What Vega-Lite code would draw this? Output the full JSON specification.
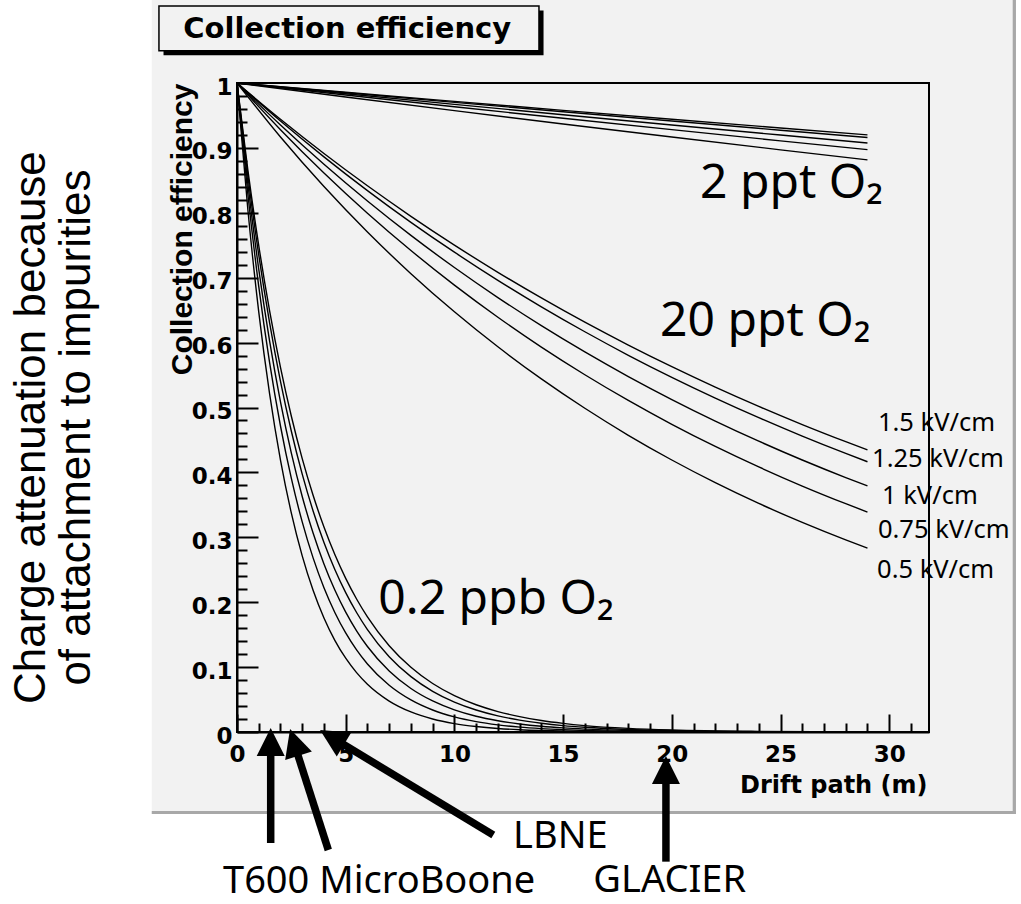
{
  "$schema": "https://vega.github.io/schema/vega-lite/v6.json",
  "width": 692,
  "height": 649,
  "autosize": "none",
  "padding": {"left": 237, "top": 83, "right": 92, "bottom": 172},
  "background": "#f2f2f2",
  "config": {
    "view": {"stroke": "#000000", "strokeWidth": 2, "fill": null},
    "axis": {
      "grid": false,
      "domainColor": "#000000",
      "domainWidth": 2,
      "tickColor": "#000000",
      "tickWidth": 2,
      "labelColor": "#000000",
      "titleColor": "#000000",
      "labelFont": "DejaVu Sans",
      "labelFontWeight": "bold",
      "labelFontSize": 23,
      "labelOverlap": false,
      "labelBound": false,
      "labelFlush": false
    }
  },
  "encoding": {
    "x": {
      "field": "drift",
      "type": "quantitative",
      "scale": {"domain": [0, 31.83], "nice": false, "zero": false},
      "axis": {
        "values": [0,1,2,3,4,5,6,7,8,9,10,11,12,13,14,15,16,17,18,19,20,21,22,23,24,25,26,27,28,29,30,31],
        "labelExpr": "datum.value % 5 === 0 ? format(datum.value, 'd') : ''",
        "tickSize": {"condition": {"test": "datum.value % 5 === 0", "value": -18}, "value": -9},
        "labelBaseline": "top",
        "labelPadding": 29,
        "title": "Drift path (m)",
        "titleFont": "DejaVu Sans",
        "titleFontWeight": "bold",
        "titleFontSize": 24,
        "titleAlign": "right",
        "titleBaseline": "alphabetic",
        "titleX": 690,
        "titleY": 60
      }
    },
    "y": {
      "field": "eff",
      "type": "quantitative",
      "scale": {"domain": [0, 1], "nice": false, "zero": false},
      "axis": {
        "values": [0,0.02,0.04,0.06,0.08,0.1,0.12,0.14,0.16,0.18,0.2,0.22,0.24,0.26,0.28,0.3,0.32,0.34,0.36,0.38,0.4,0.42,0.44,0.46,0.48,0.5,0.52,0.54,0.56,0.58,0.6,0.62,0.64,0.66,0.68,0.7,0.72,0.74,0.76,0.78,0.8,0.82,0.84,0.86,0.88,0.9,0.92,0.94,0.96,0.98,1],
        "labelExpr": "round(datum.value * 100) % 10 === 0 ? format(datum.value, '~g') : ''",
        "tickSize": {"condition": {"test": "round(datum.value * 100) % 10 === 0", "value": -21}, "value": -10},
        "labelAlign": "right",
        "labelBaseline": "middle",
        "labelOffset": 4,
        "labelPadding": 26,
        "title": "Collection efficiency",
        "titleFont": "Liberation Sans",
        "titleFontWeight": "bold",
        "titleFontSize": 30,
        "titleAngle": 270,
        "titleAlign": "right",
        "titleBaseline": "alphabetic",
        "titleX": -46,
        "titleY": 0
      }
    }
  },
  "layer": [
    {
      "data": {"values": [
        {"drift": -12, "drift2": -3.92, "eff": -0.3, "eff2": 1.2},
        {"drift": -12, "drift2": 37, "eff": -0.3, "eff2": -0.1263},
        {"drift": 35.83, "drift2": 37, "eff": -0.3, "eff2": 1.2}
      ]},
      "mark": {"type": "rect", "color": "#ffffff", "opacity": 1},
      "encoding": {"x2": {"field": "drift2"}, "y2": {"field": "eff2"}}
    },
    {
      "data": {"values": [
        {"drift": -3.92, "drift2": 35.83, "eff": -0.1263, "eff2": -0.1217},
        {"drift": 35.68, "drift2": 35.83, "eff": -0.1263, "eff2": 1.2}
      ]},
      "mark": {"type": "rect", "color": "#a8a8a8", "opacity": 1},
      "encoding": {"x2": {"field": "drift2"}, "y2": {"field": "eff2"}}
    },
    {
      "data": {"values": [{"drift": -3.38, "drift2": 14.10, "eff": 1.0429, "eff2": 1.1117}]},
      "mark": {"type": "rect", "color": "#000000", "opacity": 1},
      "encoding": {"x2": {"field": "drift2"}, "y2": {"field": "eff2"}}
    },
    {
      "data": {"values": [{"drift": -3.59, "drift2": 13.89, "eff": 1.0498, "eff2": 1.1186}]},
      "mark": {"type": "rect", "fill": "#f2f2f2", "stroke": "#000000", "strokeWidth": 1.5, "opacity": 1},
      "encoding": {"x2": {"field": "drift2"}, "y2": {"field": "eff2"}}
    },
    {
      "data": {"values": [{"label": "Collection efficiency", "drift": 5.07, "eff": 1.0689}]},
      "mark": {"type": "text", "font": "DejaVu Sans", "fontWeight": "bold", "fontSize": 29, "align": "center", "baseline": "alphabetic", "color": "#000000"},
      "encoding": {"text": {"field": "label"}}
    },
    {
      "data": {"values": [
        {"curve": "2ppt 1.5", "drift": 0, "eff": 1},
        {"curve": "2ppt 1.5", "drift": 5, "eff": 0.9857},
        {"curve": "2ppt 1.5", "drift": 10, "eff": 0.9717},
        {"curve": "2ppt 1.5", "drift": 15, "eff": 0.9578},
        {"curve": "2ppt 1.5", "drift": 20, "eff": 0.9441},
        {"curve": "2ppt 1.5", "drift": 25, "eff": 0.9307},
        {"curve": "2ppt 1.5", "drift": 29, "eff": 0.9200},
        {"curve": "2ppt 1.25", "drift": 0, "eff": 1},
        {"curve": "2ppt 1.25", "drift": 5, "eff": 0.9850},
        {"curve": "2ppt 1.25", "drift": 10, "eff": 0.9702},
        {"curve": "2ppt 1.25", "drift": 15, "eff": 0.9557},
        {"curve": "2ppt 1.25", "drift": 20, "eff": 0.9414},
        {"curve": "2ppt 1.25", "drift": 25, "eff": 0.9273},
        {"curve": "2ppt 1.25", "drift": 29, "eff": 0.9161},
        {"curve": "2ppt 1", "drift": 0, "eff": 1},
        {"curve": "2ppt 1", "drift": 5, "eff": 0.9834},
        {"curve": "2ppt 1", "drift": 10, "eff": 0.9671},
        {"curve": "2ppt 1", "drift": 15, "eff": 0.9511},
        {"curve": "2ppt 1", "drift": 20, "eff": 0.9353},
        {"curve": "2ppt 1", "drift": 25, "eff": 0.9198},
        {"curve": "2ppt 1", "drift": 29, "eff": 0.9076},
        {"curve": "2ppt 0.75", "drift": 0, "eff": 1},
        {"curve": "2ppt 0.75", "drift": 5, "eff": 0.9815},
        {"curve": "2ppt 0.75", "drift": 10, "eff": 0.9634},
        {"curve": "2ppt 0.75", "drift": 15, "eff": 0.9456},
        {"curve": "2ppt 0.75", "drift": 20, "eff": 0.9281},
        {"curve": "2ppt 0.75", "drift": 25, "eff": 0.9109},
        {"curve": "2ppt 0.75", "drift": 29, "eff": 0.8974},
        {"curve": "2ppt 0.5", "drift": 0, "eff": 1},
        {"curve": "2ppt 0.5", "drift": 5, "eff": 0.9785},
        {"curve": "2ppt 0.5", "drift": 10, "eff": 0.9575},
        {"curve": "2ppt 0.5", "drift": 15, "eff": 0.9369},
        {"curve": "2ppt 0.5", "drift": 20, "eff": 0.9167},
        {"curve": "2ppt 0.5", "drift": 25, "eff": 0.8970},
        {"curve": "2ppt 0.5", "drift": 29, "eff": 0.8815},

        {"curve": "20ppt 1.5", "drift": 0, "eff": 1},
        {"curve": "20ppt 1.5", "drift": 2, "eff": 0.9441},
        {"curve": "20ppt 1.5", "drift": 4, "eff": 0.8914},
        {"curve": "20ppt 1.5", "drift": 6, "eff": 0.8416},
        {"curve": "20ppt 1.5", "drift": 8, "eff": 0.7946},
        {"curve": "20ppt 1.5", "drift": 10, "eff": 0.7502},
        {"curve": "20ppt 1.5", "drift": 12, "eff": 0.7083},
        {"curve": "20ppt 1.5", "drift": 14, "eff": 0.6688},
        {"curve": "20ppt 1.5", "drift": 16, "eff": 0.6314},
        {"curve": "20ppt 1.5", "drift": 18, "eff": 0.5962},
        {"curve": "20ppt 1.5", "drift": 20, "eff": 0.5629},
        {"curve": "20ppt 1.5", "drift": 22, "eff": 0.5314},
        {"curve": "20ppt 1.5", "drift": 24, "eff": 0.5017},
        {"curve": "20ppt 1.5", "drift": 26, "eff": 0.4737},
        {"curve": "20ppt 1.5", "drift": 28, "eff": 0.4473},
        {"curve": "20ppt 1.5", "drift": 29, "eff": 0.4346},
        {"curve": "20ppt 1.25", "drift": 0, "eff": 1},
        {"curve": "20ppt 1.25", "drift": 2, "eff": 0.9414},
        {"curve": "20ppt 1.25", "drift": 4, "eff": 0.8862},
        {"curve": "20ppt 1.25", "drift": 6, "eff": 0.8342},
        {"curve": "20ppt 1.25", "drift": 8, "eff": 0.7853},
        {"curve": "20ppt 1.25", "drift": 10, "eff": 0.7393},
        {"curve": "20ppt 1.25", "drift": 12, "eff": 0.6959},
        {"curve": "20ppt 1.25", "drift": 14, "eff": 0.6551},
        {"curve": "20ppt 1.25", "drift": 16, "eff": 0.6167},
        {"curve": "20ppt 1.25", "drift": 18, "eff": 0.5805},
        {"curve": "20ppt 1.25", "drift": 20, "eff": 0.5465},
        {"curve": "20ppt 1.25", "drift": 22, "eff": 0.5145},
        {"curve": "20ppt 1.25", "drift": 24, "eff": 0.4843},
        {"curve": "20ppt 1.25", "drift": 26, "eff": 0.4559},
        {"curve": "20ppt 1.25", "drift": 28, "eff": 0.4292},
        {"curve": "20ppt 1.25", "drift": 29, "eff": 0.4164},
        {"curve": "20ppt 1", "drift": 0, "eff": 1},
        {"curve": "20ppt 1", "drift": 2, "eff": 0.9353},
        {"curve": "20ppt 1", "drift": 4, "eff": 0.8748},
        {"curve": "20ppt 1", "drift": 6, "eff": 0.8182},
        {"curve": "20ppt 1", "drift": 8, "eff": 0.7652},
        {"curve": "20ppt 1", "drift": 10, "eff": 0.7157},
        {"curve": "20ppt 1", "drift": 12, "eff": 0.6694},
        {"curve": "20ppt 1", "drift": 14, "eff": 0.6261},
        {"curve": "20ppt 1", "drift": 16, "eff": 0.5856},
        {"curve": "20ppt 1", "drift": 18, "eff": 0.5477},
        {"curve": "20ppt 1", "drift": 20, "eff": 0.5123},
        {"curve": "20ppt 1", "drift": 22, "eff": 0.4791},
        {"curve": "20ppt 1", "drift": 24, "eff": 0.4481},
        {"curve": "20ppt 1", "drift": 26, "eff": 0.4191},
        {"curve": "20ppt 1", "drift": 28, "eff": 0.3920},
        {"curve": "20ppt 1", "drift": 29, "eff": 0.3791},
        {"curve": "20ppt 0.75", "drift": 0, "eff": 1},
        {"curve": "20ppt 0.75", "drift": 2, "eff": 0.9281},
        {"curve": "20ppt 0.75", "drift": 4, "eff": 0.8614},
        {"curve": "20ppt 0.75", "drift": 6, "eff": 0.7994},
        {"curve": "20ppt 0.75", "drift": 8, "eff": 0.7419},
        {"curve": "20ppt 0.75", "drift": 10, "eff": 0.6886},
        {"curve": "20ppt 0.75", "drift": 12, "eff": 0.6391},
        {"curve": "20ppt 0.75", "drift": 14, "eff": 0.5931},
        {"curve": "20ppt 0.75", "drift": 16, "eff": 0.5505},
        {"curve": "20ppt 0.75", "drift": 18, "eff": 0.5109},
        {"curve": "20ppt 0.75", "drift": 20, "eff": 0.4741},
        {"curve": "20ppt 0.75", "drift": 22, "eff": 0.4400},
        {"curve": "20ppt 0.75", "drift": 24, "eff": 0.4084},
        {"curve": "20ppt 0.75", "drift": 26, "eff": 0.3790},
        {"curve": "20ppt 0.75", "drift": 28, "eff": 0.3518},
        {"curve": "20ppt 0.75", "drift": 29, "eff": 0.3389},
        {"curve": "20ppt 0.5", "drift": 0, "eff": 1},
        {"curve": "20ppt 0.5", "drift": 2, "eff": 0.9167},
        {"curve": "20ppt 0.5", "drift": 4, "eff": 0.8404},
        {"curve": "20ppt 0.5", "drift": 6, "eff": 0.7704},
        {"curve": "20ppt 0.5", "drift": 8, "eff": 0.7062},
        {"curve": "20ppt 0.5", "drift": 10, "eff": 0.6474},
        {"curve": "20ppt 0.5", "drift": 12, "eff": 0.5935},
        {"curve": "20ppt 0.5", "drift": 14, "eff": 0.5441},
        {"curve": "20ppt 0.5", "drift": 16, "eff": 0.4988},
        {"curve": "20ppt 0.5", "drift": 18, "eff": 0.4572},
        {"curve": "20ppt 0.5", "drift": 20, "eff": 0.4191},
        {"curve": "20ppt 0.5", "drift": 22, "eff": 0.3842},
        {"curve": "20ppt 0.5", "drift": 24, "eff": 0.3522},
        {"curve": "20ppt 0.5", "drift": 26, "eff": 0.3229},
        {"curve": "20ppt 0.5", "drift": 28, "eff": 0.2960},
        {"curve": "20ppt 0.5", "drift": 29, "eff": 0.2834},

        {"curve": "0.2ppb 1.5", "drift": 0, "eff": 1},
        {"curve": "0.2ppb 1.5", "drift": 0.5, "eff": 0.8658},
        {"curve": "0.2ppb 1.5", "drift": 1, "eff": 0.7496},
        {"curve": "0.2ppb 1.5", "drift": 1.5, "eff": 0.6490},
        {"curve": "0.2ppb 1.5", "drift": 2, "eff": 0.5619},
        {"curve": "0.2ppb 1.5", "drift": 2.5, "eff": 0.4865},
        {"curve": "0.2ppb 1.5", "drift": 3, "eff": 0.4212},
        {"curve": "0.2ppb 1.5", "drift": 3.5, "eff": 0.3647},
        {"curve": "0.2ppb 1.5", "drift": 4, "eff": 0.3158},
        {"curve": "0.2ppb 1.5", "drift": 4.5, "eff": 0.2734},
        {"curve": "0.2ppb 1.5", "drift": 5, "eff": 0.2367},
        {"curve": "0.2ppb 1.5", "drift": 5.5, "eff": 0.2049},
        {"curve": "0.2ppb 1.5", "drift": 6, "eff": 0.1774},
        {"curve": "0.2ppb 1.5", "drift": 7, "eff": 0.1330},
        {"curve": "0.2ppb 1.5", "drift": 8, "eff": 0.0997},
        {"curve": "0.2ppb 1.5", "drift": 9, "eff": 0.0747},
        {"curve": "0.2ppb 1.5", "drift": 10, "eff": 0.0560},
        {"curve": "0.2ppb 1.5", "drift": 11, "eff": 0.0420},
        {"curve": "0.2ppb 1.5", "drift": 12, "eff": 0.0315},
        {"curve": "0.2ppb 1.5", "drift": 13, "eff": 0.0236},
        {"curve": "0.2ppb 1.5", "drift": 14, "eff": 0.0177},
        {"curve": "0.2ppb 1.5", "drift": 15, "eff": 0.0133},
        {"curve": "0.2ppb 1.5", "drift": 16, "eff": 0.0099},
        {"curve": "0.2ppb 1.5", "drift": 18, "eff": 0.0056},
        {"curve": "0.2ppb 1.5", "drift": 20, "eff": 0.0031},
        {"curve": "0.2ppb 1.5", "drift": 24, "eff": 0.0010},
        {"curve": "0.2ppb 1.5", "drift": 29, "eff": 0.0002},
        {"curve": "0.2ppb 1.25", "drift": 0, "eff": 1},
        {"curve": "0.2ppb 1.25", "drift": 0.5, "eff": 0.8574},
        {"curve": "0.2ppb 1.25", "drift": 1, "eff": 0.7351},
        {"curve": "0.2ppb 1.25", "drift": 1.5, "eff": 0.6303},
        {"curve": "0.2ppb 1.25", "drift": 2, "eff": 0.5404},
        {"curve": "0.2ppb 1.25", "drift": 2.5, "eff": 0.4634},
        {"curve": "0.2ppb 1.25", "drift": 3, "eff": 0.3973},
        {"curve": "0.2ppb 1.25", "drift": 3.5, "eff": 0.3406},
        {"curve": "0.2ppb 1.25", "drift": 4, "eff": 0.2921},
        {"curve": "0.2ppb 1.25", "drift": 4.5, "eff": 0.2504},
        {"curve": "0.2ppb 1.25", "drift": 5, "eff": 0.2147},
        {"curve": "0.2ppb 1.25", "drift": 5.5, "eff": 0.1841},
        {"curve": "0.2ppb 1.25", "drift": 6, "eff": 0.1578},
        {"curve": "0.2ppb 1.25", "drift": 7, "eff": 0.1160},
        {"curve": "0.2ppb 1.25", "drift": 8, "eff": 0.0853},
        {"curve": "0.2ppb 1.25", "drift": 9, "eff": 0.0627},
        {"curve": "0.2ppb 1.25", "drift": 10, "eff": 0.0461},
        {"curve": "0.2ppb 1.25", "drift": 11, "eff": 0.0339},
        {"curve": "0.2ppb 1.25", "drift": 12, "eff": 0.0249},
        {"curve": "0.2ppb 1.25", "drift": 13, "eff": 0.0183},
        {"curve": "0.2ppb 1.25", "drift": 14, "eff": 0.0135},
        {"curve": "0.2ppb 1.25", "drift": 15, "eff": 0.0099},
        {"curve": "0.2ppb 1.25", "drift": 16, "eff": 0.0073},
        {"curve": "0.2ppb 1.25", "drift": 18, "eff": 0.0039},
        {"curve": "0.2ppb 1.25", "drift": 20, "eff": 0.0021},
        {"curve": "0.2ppb 1.25", "drift": 24, "eff": 0.0006},
        {"curve": "0.2ppb 1.25", "drift": 29, "eff": 0.0001},
        {"curve": "0.2ppb 1", "drift": 0, "eff": 1},
        {"curve": "0.2ppb 1", "drift": 0.5, "eff": 0.8446},
        {"curve": "0.2ppb 1", "drift": 1, "eff": 0.7133},
        {"curve": "0.2ppb 1", "drift": 1.5, "eff": 0.6024},
        {"curve": "0.2ppb 1", "drift": 2, "eff": 0.5088},
        {"curve": "0.2ppb 1", "drift": 2.5, "eff": 0.4297},
        {"curve": "0.2ppb 1", "drift": 3, "eff": 0.3629},
        {"curve": "0.2ppb 1", "drift": 3.5, "eff": 0.3065},
        {"curve": "0.2ppb 1", "drift": 4, "eff": 0.2589},
        {"curve": "0.2ppb 1", "drift": 4.5, "eff": 0.2187},
        {"curve": "0.2ppb 1", "drift": 5, "eff": 0.1847},
        {"curve": "0.2ppb 1", "drift": 5.5, "eff": 0.1560},
        {"curve": "0.2ppb 1", "drift": 6, "eff": 0.1317},
        {"curve": "0.2ppb 1", "drift": 7, "eff": 0.0940},
        {"curve": "0.2ppb 1", "drift": 8, "eff": 0.0670},
        {"curve": "0.2ppb 1", "drift": 9, "eff": 0.0478},
        {"curve": "0.2ppb 1", "drift": 10, "eff": 0.0341},
        {"curve": "0.2ppb 1", "drift": 11, "eff": 0.0243},
        {"curve": "0.2ppb 1", "drift": 12, "eff": 0.0174},
        {"curve": "0.2ppb 1", "drift": 13, "eff": 0.0124},
        {"curve": "0.2ppb 1", "drift": 14, "eff": 0.0088},
        {"curve": "0.2ppb 1", "drift": 15, "eff": 0.0063},
        {"curve": "0.2ppb 1", "drift": 16, "eff": 0.0045},
        {"curve": "0.2ppb 1", "drift": 18, "eff": 0.0023},
        {"curve": "0.2ppb 1", "drift": 20, "eff": 0.0012},
        {"curve": "0.2ppb 1", "drift": 24, "eff": 0.0003},
        {"curve": "0.2ppb 1", "drift": 29, "eff": 0.0001},
        {"curve": "0.2ppb 0.75", "drift": 0, "eff": 1},
        {"curve": "0.2ppb 0.75", "drift": 0.5, "eff": 0.8286},
        {"curve": "0.2ppb 0.75", "drift": 1, "eff": 0.6866},
        {"curve": "0.2ppb 0.75", "drift": 1.5, "eff": 0.5690},
        {"curve": "0.2ppb 0.75", "drift": 2, "eff": 0.4715},
        {"curve": "0.2ppb 0.75", "drift": 2.5, "eff": 0.3907},
        {"curve": "0.2ppb 0.75", "drift": 3, "eff": 0.3237},
        {"curve": "0.2ppb 0.75", "drift": 3.5, "eff": 0.2683},
        {"curve": "0.2ppb 0.75", "drift": 4, "eff": 0.2223},
        {"curve": "0.2ppb 0.75", "drift": 4.5, "eff": 0.1842},
        {"curve": "0.2ppb 0.75", "drift": 5, "eff": 0.1526},
        {"curve": "0.2ppb 0.75", "drift": 5.5, "eff": 0.1265},
        {"curve": "0.2ppb 0.75", "drift": 6, "eff": 0.1048},
        {"curve": "0.2ppb 0.75", "drift": 7, "eff": 0.0720},
        {"curve": "0.2ppb 0.75", "drift": 8, "eff": 0.0494},
        {"curve": "0.2ppb 0.75", "drift": 9, "eff": 0.0339},
        {"curve": "0.2ppb 0.75", "drift": 10, "eff": 0.0233},
        {"curve": "0.2ppb 0.75", "drift": 11, "eff": 0.0160},
        {"curve": "0.2ppb 0.75", "drift": 12, "eff": 0.0110},
        {"curve": "0.2ppb 0.75", "drift": 13, "eff": 0.0075},
        {"curve": "0.2ppb 0.75", "drift": 14, "eff": 0.0052},
        {"curve": "0.2ppb 0.75", "drift": 15, "eff": 0.0036},
        {"curve": "0.2ppb 0.75", "drift": 16, "eff": 0.0024},
        {"curve": "0.2ppb 0.75", "drift": 18, "eff": 0.0012},
        {"curve": "0.2ppb 0.75", "drift": 20, "eff": 0.0005},
        {"curve": "0.2ppb 0.75", "drift": 24, "eff": 0.0001},
        {"curve": "0.2ppb 0.75", "drift": 29, "eff": 0},
        {"curve": "0.2ppb 0.5", "drift": 0, "eff": 1},
        {"curve": "0.2ppb 0.5", "drift": 0.5, "eff": 0.8046},
        {"curve": "0.2ppb 0.5", "drift": 1, "eff": 0.6474},
        {"curve": "0.2ppb 0.5", "drift": 1.5, "eff": 0.5209},
        {"curve": "0.2ppb 0.5", "drift": 2, "eff": 0.4191},
        {"curve": "0.2ppb 0.5", "drift": 2.5, "eff": 0.3372},
        {"curve": "0.2ppb 0.5", "drift": 3, "eff": 0.2714},
        {"curve": "0.2ppb 0.5", "drift": 3.5, "eff": 0.2183},
        {"curve": "0.2ppb 0.5", "drift": 4, "eff": 0.1757},
        {"curve": "0.2ppb 0.5", "drift": 4.5, "eff": 0.1413},
        {"curve": "0.2ppb 0.5", "drift": 5, "eff": 0.1137},
        {"curve": "0.2ppb 0.5", "drift": 5.5, "eff": 0.0915},
        {"curve": "0.2ppb 0.5", "drift": 6, "eff": 0.0736},
        {"curve": "0.2ppb 0.5", "drift": 7, "eff": 0.0477},
        {"curve": "0.2ppb 0.5", "drift": 8, "eff": 0.0309},
        {"curve": "0.2ppb 0.5", "drift": 9, "eff": 0.0200},
        {"curve": "0.2ppb 0.5", "drift": 10, "eff": 0.0129},
        {"curve": "0.2ppb 0.5", "drift": 11, "eff": 0.0084},
        {"curve": "0.2ppb 0.5", "drift": 12, "eff": 0.0054},
        {"curve": "0.2ppb 0.5", "drift": 13, "eff": 0.0035},
        {"curve": "0.2ppb 0.5", "drift": 14, "eff": 0.0023},
        {"curve": "0.2ppb 0.5", "drift": 15, "eff": 0.0015},
        {"curve": "0.2ppb 0.5", "drift": 16, "eff": 0.0010},
        {"curve": "0.2ppb 0.5", "drift": 18, "eff": 0.0004},
        {"curve": "0.2ppb 0.5", "drift": 20, "eff": 0.0002},
        {"curve": "0.2ppb 0.5", "drift": 24, "eff": 0},
        {"curve": "0.2ppb 0.5", "drift": 29, "eff": 0}
      ]},
      "mark": {"type": "line", "color": "#000000", "strokeWidth": 1.4, "interpolate": "monotone"},
      "encoding": {"detail": {"field": "curve", "type": "nominal"}}
    },
    {
      "data": {"values": [
        {"label": "2 ppt O₂", "drift": 21.3, "eff": 0.823},
        {"label": "20 ppt O₂", "drift": 19.46, "eff": 0.61},
        {"label": "0.2 ppb O₂", "drift": 6.5, "eff": 0.1814}
      ]},
      "mark": {"type": "text", "font": "Noto Sans", "fontSize": 48, "align": "left", "baseline": "alphabetic", "color": "#000000"},
      "encoding": {"text": {"field": "label"}}
    },
    {
      "data": {"values": [
        {"label": "1.5 kV/cm", "drift": 29.48, "eff": 0.4764},
        {"label": "1.25 kV/cm", "drift": 29.21, "eff": 0.4199},
        {"label": "1 kV/cm", "drift": 29.67, "eff": 0.3632},
        {"label": "0.75 kV/cm", "drift": 29.48, "eff": 0.3112},
        {"label": "0.5 kV/cm", "drift": 29.44, "eff": 0.2492}
      ]},
      "mark": {"type": "text", "font": "Noto Sans", "fontSize": 25.5, "align": "left", "baseline": "middle", "color": "#000000"},
      "encoding": {"text": {"field": "label"}}
    },
    {
      "data": {"values": [
        {"label": "T600 MicroBoone", "drift": -0.644, "eff": -0.248},
        {"label": "LBNE", "drift": 12.7, "eff": -0.1792},
        {"label": "GLACIER", "drift": 16.39, "eff": -0.247}
      ]},
      "mark": {"type": "text", "font": "Noto Sans", "fontSize": 38, "align": "left", "baseline": "alphabetic", "color": "#000000"},
      "encoding": {"text": {"field": "label"}}
    },
    {
      "data": {"values": [
        {"label": "T600", "drift": 1.55, "eff": -0.171, "drift2": 1.55, "eff2": -0.0216},
        {"label": "MicroBoone", "drift": 4.2, "eff": -0.1818, "drift2": 2.67, "eff2": -0.0219},
        {"label": "LBNE", "drift": 11.79, "eff": -0.1587, "drift2": 4.51, "eff2": -0.0113},
        {"label": "GLACIER", "drift": 19.73, "eff": -0.1998, "drift2": 19.73, "eff2": -0.0647}
      ]},
      "mark": {"type": "rule", "color": "#000000", "strokeWidth": 7.5},
      "encoding": {"x2": {"field": "drift2"}, "y2": {"field": "eff2"}}
    },
    {
      "data": {"values": [
        {"label": "T600", "drift": 1.55, "eff": 0.006},
        {"label": "GLACIER", "drift": 19.73, "eff": -0.037}
      ]},
      "mark": {"type": "point", "shape": "M0,0L-1,2L1,2Z", "size": 784, "filled": true, "color": "#000000", "opacity": 1, "angle": 0},
      "encoding": {}
    },
    {
      "data": {"values": [{"label": "MicroBoone", "drift": 2.44, "eff": 0.0046}]},
      "mark": {"type": "point", "shape": "M0,0L-1,2L1,2Z", "size": 784, "filled": true, "color": "#000000", "opacity": 1, "angle": -17.6},
      "encoding": {}
    },
    {
      "data": {"values": [{"label": "LBNE", "drift": 3.82, "eff": 0.003}]},
      "mark": {"type": "point", "shape": "M0,0L-1,2L1,2Z", "size": 784, "filled": true, "color": "#000000", "opacity": 1, "angle": -58.8},
      "encoding": {}
    },
    {
      "data": {"values": [{"label": "Charge attenuation because\nof attachment to impurities", "drift": -8.845, "eff": 0.469}]},
      "mark": {"type": "text", "font": "Liberation Sans", "fontSize": 44, "angle": 270, "align": "center", "baseline": "alphabetic", "lineBreak": "\n", "lineHeight": 45, "color": "#000000"},
      "encoding": {"text": {"field": "label"}}
    }
  ]
}
